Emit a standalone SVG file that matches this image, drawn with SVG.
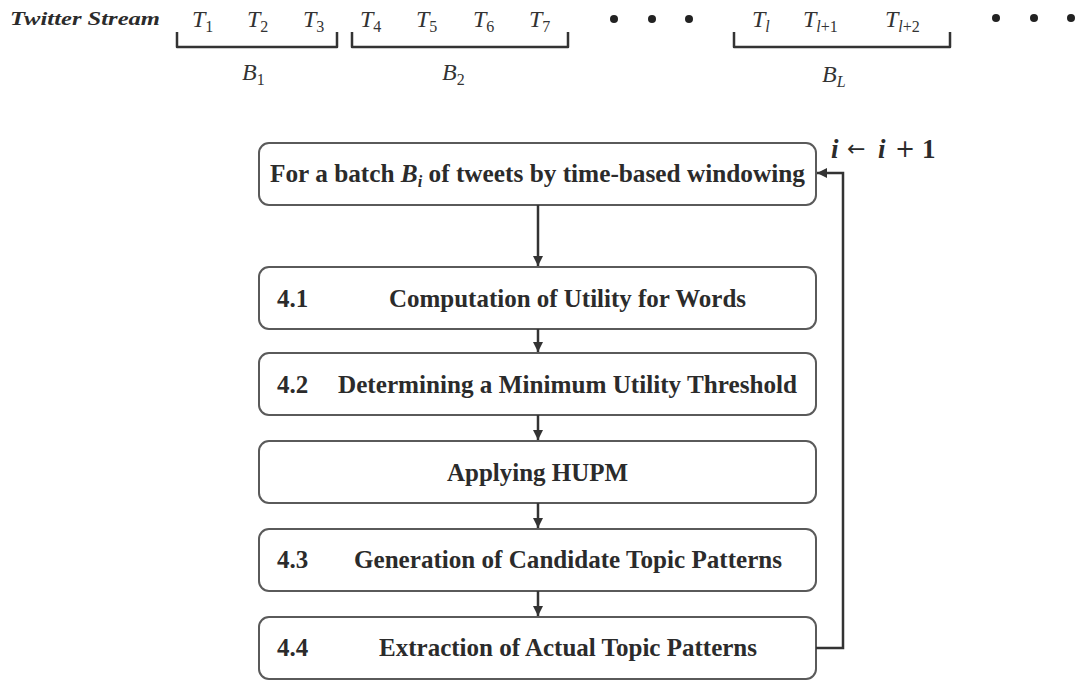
<svg xmlns="http://www.w3.org/2000/svg" width="1083" height="682" viewBox="0 0 1083 682">
  <style>
    .box { fill: #ffffff; stroke: #5a5a5a; stroke-width: 2; }
    .lbl { font-family: "Liberation Serif", "Times New Roman", serif; font-weight: bold; font-size: 25px; fill: #2b2b2b; }
    .math { font-family: "Liberation Serif", "Times New Roman", serif; font-style: italic; font-size: 24px; fill: #333333; }
    .sub { font-size: 16px; font-style: normal; }
    .subi { font-size: 16px; font-style: italic; }
    .brace { fill: none; stroke: #333333; stroke-width: 2.5; stroke-linejoin: round; }
    .wire { fill: none; stroke: #333333; stroke-width: 2.5; }
    .dot { fill: #222222; }
    .cnt { font-family: "Liberation Serif", "Times New Roman", serif; font-size: 27px; fill: #2b2b2b; font-weight: bold; }
  </style>
  <defs>
    <marker id="head" viewBox="0 0 10 10" refX="10" refY="5" markerWidth="4" markerHeight="4" orient="auto">
      <path d="M0,0 L10,5 L0,10 z" fill="#333333"/>
    </marker>
  </defs>

  <!-- stream of tweets -->
  <g id="stream">
    <text x="10" y="25" font-family="Liberation Serif, serif" font-weight="bold" font-style="italic" font-size="19" fill="#2b2b2b" textLength="150" lengthAdjust="spacingAndGlyphs">Twitter Stream</text>

    <text class="math" x="192" y="27">T<tspan class="sub" dy="5">1</tspan></text>
    <text class="math" x="247" y="27">T<tspan class="sub" dy="5">2</tspan></text>
    <text class="math" x="303" y="27">T<tspan class="sub" dy="5">3</tspan></text>
    <path class="brace" d="M177,32 V47 H337 V32"/>
    <text class="math" x="242" y="80">B<tspan class="sub" dy="5">1</tspan></text>

    <text class="math" x="360" y="27">T<tspan class="sub" dy="5">4</tspan></text>
    <text class="math" x="416" y="27">T<tspan class="sub" dy="5">5</tspan></text>
    <text class="math" x="473" y="27">T<tspan class="sub" dy="5">6</tspan></text>
    <text class="math" x="529" y="27">T<tspan class="sub" dy="5">7</tspan></text>
    <path class="brace" d="M352,32 V47 H568 V32"/>
    <text class="math" x="442" y="80">B<tspan class="sub" dy="5">2</tspan></text>

    <circle class="dot" cx="614" cy="19" r="4"/>
    <circle class="dot" cx="652" cy="19" r="4"/>
    <circle class="dot" cx="689" cy="19" r="4"/>

    <text class="math" x="752" y="27">T<tspan class="subi" dy="5">l</tspan></text>
    <text class="math" x="803" y="27">T<tspan class="subi" dy="5">l</tspan><tspan class="sub">+1</tspan></text>
    <text class="math" x="885" y="27">T<tspan class="subi" dy="5">l</tspan><tspan class="sub">+2</tspan></text>
    <path class="brace" d="M734,32 V47 H950 V32"/>
    <text class="math" x="822" y="82">B<tspan class="subi" dy="5">L</tspan></text>

    <circle class="dot" cx="996" cy="18" r="4"/>
    <circle class="dot" cx="1034" cy="18" r="4"/>
    <circle class="dot" cx="1071" cy="18" r="4"/>
  </g>

  <!-- processing steps -->
  <g id="batch">
    <rect class="box" x="259" y="143" width="557" height="62" rx="10"/>
    <text class="lbl" x="270" y="182" textLength="535" lengthAdjust="spacingAndGlyphs">For a batch <tspan font-style="italic">B</tspan><tspan font-style="italic" font-size="16" dy="5">i</tspan><tspan dy="-5"> of tweets by time-based windowing</tspan></text>
  </g>
  <g id="step41">
    <rect class="box" x="259" y="267" width="557" height="62" rx="10"/>
    <text class="lbl" x="277" y="307">4.1</text>
    <text class="lbl" x="389" y="307" textLength="357" lengthAdjust="spacingAndGlyphs">Computation of Utility for Words</text>
  </g>
  <g id="step42">
    <rect class="box" x="259" y="353" width="557" height="62" rx="10"/>
    <text class="lbl" x="277" y="393">4.2</text>
    <text class="lbl" x="338" y="393" textLength="459" lengthAdjust="spacingAndGlyphs">Determining a Minimum Utility Threshold</text>
  </g>
  <g id="hupm">
    <rect class="box" x="259" y="441" width="557" height="62" rx="10"/>
    <text class="lbl" x="447" y="481" textLength="181" lengthAdjust="spacingAndGlyphs">Applying HUPM</text>
  </g>
  <g id="step43">
    <rect class="box" x="259" y="529" width="557" height="62" rx="10"/>
    <text class="lbl" x="277" y="568">4.3</text>
    <text class="lbl" x="354" y="568" textLength="428" lengthAdjust="spacingAndGlyphs">Generation of Candidate Topic Patterns</text>
  </g>
  <g id="step44">
    <rect class="box" x="259" y="617" width="557" height="62" rx="10"/>
    <text class="lbl" x="277" y="656">4.4</text>
    <text class="lbl" x="379" y="656" textLength="378" lengthAdjust="spacingAndGlyphs">Extraction of Actual Topic Patterns</text>
  </g>

  <!-- loop counter: i ← i + 1 -->
  <g id="counter">
    <text class="cnt" x="831" y="158" font-style="italic">i</text>
    <text x="847" y="156" font-family="DejaVu Sans, sans-serif" font-size="22" fill="#2b2b2b">←</text>
    <text class="cnt" x="878" y="158" font-style="italic">i</text>
    <text x="895" y="157" font-family="DejaVu Sans, sans-serif" font-size="24" fill="#2b2b2b">+</text>
    <text class="cnt" x="922" y="158">1</text>
  </g>

  <!-- connectors -->
  <g id="connectors">
    <line class="wire" x1="538" y1="205" x2="538" y2="266" marker-end="url(#head)"/>
    <line class="wire" x1="538" y1="329" x2="538" y2="352" marker-end="url(#head)"/>
    <line class="wire" x1="538" y1="415" x2="538" y2="440" marker-end="url(#head)"/>
    <line class="wire" x1="538" y1="503" x2="538" y2="528" marker-end="url(#head)"/>
    <line class="wire" x1="538" y1="591" x2="538" y2="616" marker-end="url(#head)"/>
    <path class="wire" d="M816,648 H843 V173 H817" marker-end="url(#head)"/>
  </g>
</svg>
